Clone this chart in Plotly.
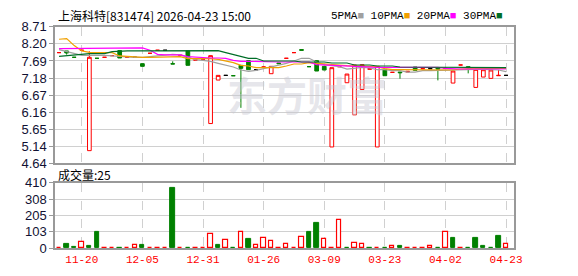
import plotly.graph_objects as go

# ---------------- data ----------------
idx = list(range(60))
tick_idx = [3, 11, 19, 27, 35, 43, 51, 59]
tick_labels = ["11-20", "12-05", "12-31", "01-26", "03-09", "03-23", "04-02", "04-23"]

opens = [7.94, 7.99, 7.80, 8.01, 5.01, 7.77, 7.80, 7.85, 8.00, 7.80,
         7.80, 7.61, 7.92, 8.01, 8.01, 7.61, 7.86, 7.99, 7.72, 7.74,
         5.82, 7.12, 7.26, 7.25, 7.56, 7.70, 7.43, 7.51, 7.31, 7.63,
         7.77, 7.94, 8.03, 7.52, 7.70, 7.53, 5.12, 7.52, 7.04, 6.08,
         6.84, 7.44, 5.12, 7.44, 7.35, 7.36, 7.36, 7.51, 7.46, 7.46,
         7.48, 7.47, 7.03, 7.57, 7.52, 6.90, 7.21, 7.17, 7.25, 7.26]
highs = [7.94, 7.99, 7.80, 8.01, 7.98, 7.77, 7.80, 7.85, 8.00, 7.80,
         7.80, 7.61, 7.92, 8.01, 8.01, 7.68, 7.86, 7.99, 7.72, 7.74,
         7.85, 7.26, 7.26, 7.25, 7.57, 7.70, 7.43, 7.51, 7.53, 7.63,
         7.77, 7.94, 8.03, 7.52, 7.70, 7.53, 7.49, 7.52, 7.30, 7.57,
         7.58, 7.46, 7.53, 7.44, 7.35, 7.36, 7.38, 7.51, 7.46, 7.46,
         7.48, 7.47, 7.39, 7.57, 7.52, 7.44, 7.43, 7.42, 7.42, 7.26]
lows = [7.94, 7.88, 7.80, 8.01, 5.01, 7.77, 7.80, 7.85, 7.78, 7.80,
        7.80, 7.53, 7.92, 8.01, 8.01, 7.60, 7.86, 7.56, 7.72, 7.74,
        5.82, 7.12, 7.26, 7.25, 6.29, 7.43, 7.43, 7.51, 7.31, 7.61,
        7.77, 7.94, 8.01, 7.52, 7.39, 7.42, 5.12, 7.52, 7.04, 6.08,
        6.84, 7.44, 5.12, 7.25, 7.35, 7.16, 7.36, 7.41, 7.46, 7.46,
        7.11, 7.47, 7.03, 7.57, 7.32, 6.90, 7.21, 7.17, 7.25, 7.26]
closes = [7.94, 7.93, 7.80, 8.01, 7.80, 7.77, 7.80, 7.85, 7.78, 7.80,
          7.80, 7.53, 7.92, 8.01, 8.01, 7.60, 7.86, 7.56, 7.72, 7.74,
          7.85, 7.26, 7.26, 7.25, 7.47, 7.43, 7.43, 7.51, 7.53, 7.61,
          7.77, 7.94, 8.01, 7.52, 7.39, 7.42, 7.49, 7.52, 7.30, 7.57,
          7.58, 7.46, 7.53, 7.25, 7.35, 7.34, 7.38, 7.41, 7.46, 7.46,
          7.45, 7.47, 7.39, 7.57, 7.49, 7.44, 7.43, 7.42, 7.26, 7.26]
volumes = [3, 24, 8, 42, 12, 101, 3, 3, 4, 3,
           18, 20, 3, 3, 3, 380, 3, 4, 3, 3,
           89, 20, 53, 4, 101, 59, 18, 65, 46, 3,
           24, 3, 71, 101, 160, 59, 3, 178, 4, 30,
           26, 4, 3, 4, 12, 12, 3, 3, 3, 12,
           4, 99, 67, 3, 4, 67, 12, 4, 79, 25]

ma5 = [8.03, 7.97, 7.92, 7.86, 7.86, 7.87, 7.86, 7.84, 7.82, 7.80,
       7.80, 7.80, 7.82, 7.86, 7.87, 7.89, 7.87, 7.80, 7.73, 7.71,
       7.68, 7.62, 7.57, 7.51, 7.42, 7.38, 7.41, 7.46, 7.50, 7.55,
       7.62, 7.69, 7.77, 7.77, 7.66, 7.58, 7.56, 7.52, 7.45, 7.47,
       7.50, 7.48, 7.43, 7.43, 7.40, 7.40, 7.36, 7.36, 7.40, 7.40,
       7.41, 7.42, 7.43, 7.44, 7.44, 7.44, 7.44, 7.44, 7.42, 7.37]
ma10 = [8.34, 8.36, 8.15, 7.99, 7.95, 7.94, 7.94, 7.94, 7.84, 7.82,
        7.82, 7.80, 7.80, 7.81, 7.82, 7.82, 7.82, 7.76, 7.76, 7.77,
        7.76, 7.74, 7.70, 7.64, 7.56, 7.54, 7.49, 7.49, 7.49, 7.49,
        7.54, 7.60, 7.60, 7.64, 7.62, 7.61, 7.60, 7.57, 7.55, 7.54,
        7.53, 7.52, 7.52, 7.46, 7.43, 7.43, 7.43, 7.44, 7.44, 7.43,
        7.42, 7.42, 7.42, 7.45, 7.47, 7.47, 7.47, 7.47, 7.47, 7.47]
ma20 = [8.06, 8.06, 8.06, 8.06, 8.08, 8.08, 8.08, 8.08, 8.08, 8.08,
        8.08, 8.08, 8.01, 7.89, 7.87, 7.87, 7.87, 7.82, 7.80, 7.79,
        7.78, 7.78, 7.77, 7.71, 7.68, 7.68, 7.67, 7.66, 7.66, 7.66,
        7.66, 7.66, 7.66, 7.66, 7.58, 7.57, 7.56, 7.55, 7.54, 7.52,
        7.50, 7.50, 7.50, 7.50, 7.50, 7.50, 7.50, 7.50, 7.50, 7.50,
        7.50, 7.47, 7.45, 7.45, 7.45, 7.45, 7.45, 7.45, 7.45, 7.45]
ma30 = [7.83, 7.85, 7.89, 7.91, 7.91, 7.91, 7.91, 7.97, 7.99, 7.99,
        7.99, 7.99, 8.01, 8.01, 8.01, 8.01, 8.01, 8.01, 8.01, 8.00,
        8.00, 8.00, 7.94, 7.89, 7.83, 7.77, 7.77, 7.69, 7.69, 7.69,
        7.69, 7.69, 7.66, 7.66, 7.66, 7.66, 7.63, 7.63, 7.63, 7.57,
        7.57, 7.57, 7.54, 7.54, 7.54, 7.51, 7.51, 7.51, 7.51, 7.51,
        7.51, 7.51, 7.51, 7.49, 7.49, 7.49, 7.49, 7.49, 7.49, 7.49]

price_ticks = [8.71, 8.20, 7.69, 7.18, 6.67, 6.16, 5.65, 5.14, 4.64]
vol_ticks = [0, 103, 205, 308, 410]

title_text = "上海科特[831474] 2026-04-23 15:00"
vol_title = "成交量:25"
ma_names = ["5PMA", "10PMA", "20PMA", "30PMA"]

# ---------------- styling ----------------
RED = "#ff0000"
GREEN = "#008000"
BLACK = "#000000"
MA_COLORS = ["#a0a0a0", "#f0a000", "#ff00ff", "#006e28"]
GRID = "#d0d0d0"
FRAME = "#999999"
FONT = "Noto Sans CJK SC"
MONO = "Liberation Mono"

# candle direction classes (derived from data)
up, down, flat = [], [], []
for i in idx:
    if closes[i] > opens[i]:
        up.append(i)
    elif closes[i] < opens[i]:
        down.append(i)
    else:
        prev = closes[i - 1] if i > 0 else closes[i] - 0.01
        if closes[i] > prev:
            up.append(i)
        elif closes[i] < prev:
            down.append(i)
        else:
            flat.append(i)

vol_up = [i for i in idx if i == 0 or closes[i] >= closes[i - 1]]
vol_dn = [i for i in idx if not (i == 0 or closes[i] >= closes[i - 1])]

fig = go.Figure()


def candle(sel, line_color, fill_color):
    fig.add_trace(go.Candlestick(
        x=[idx[i] for i in sel],
        open=[opens[i] for i in sel], high=[highs[i] for i in sel],
        low=[lows[i] for i in sel], close=[closes[i] for i in sel],
        increasing=dict(line=dict(color=line_color, width=1), fillcolor=fill_color),
        decreasing=dict(line=dict(color=line_color, width=1), fillcolor=fill_color),
        whiskerwidth=0, showlegend=False, hoverinfo="skip",
        xaxis="x", yaxis="y"))


candle(up, RED, "#ffffff")
candle(down, GREEN, GREEN)
candle(flat, BLACK, BLACK)

for vals, col in zip([ma5, ma10, ma20, ma30], MA_COLORS):
    fig.add_trace(go.Scatter(x=idx, y=vals, mode="lines",
                             line=dict(color=col, width=1.2),
                             showlegend=False, hoverinfo="skip",
                             xaxis="x", yaxis="y"))

fig.add_trace(go.Bar(x=[idx[i] for i in vol_up], y=[volumes[i] for i in vol_up],
                     marker=dict(color="#ffffff", line=dict(color=RED, width=1.2)),
                     width=0.58, showlegend=False, hoverinfo="skip",
                     xaxis="x2", yaxis="y2"))
fig.add_trace(go.Bar(x=[idx[i] for i in vol_dn], y=[volumes[i] for i in vol_dn],
                     marker=dict(color=GREEN, line=dict(color=GREEN, width=1)),
                     width=0.58, showlegend=False, hoverinfo="skip",
                     xaxis="x2", yaxis="y2"))

W, H = 578, 276
x_dom = [56 / W, 522 / W]
y_dom = [1 - 165 / H, 1 - 21 / H]
y2_dom = [1 - 255 / H, 1 - 186 / H]
x_range = [-0.52, 60.03]

common_x = dict(range=x_range, tickmode="array", tickvals=tick_idx,
                showgrid=True, gridcolor=GRID, griddash="dash", gridwidth=1,
                showline=True, linecolor=FRAME, linewidth=1.5, mirror=True,
                zeroline=False, fixedrange=True)

fig.update_layout(
    width=W, height=H, margin=dict(l=0, r=0, t=0, b=0),
    paper_bgcolor="#ffffff", plot_bgcolor="#ffffff",
    font=dict(family=FONT, size=12, color="#000000"),
    bargap=0, barmode="overlay",
    xaxis=dict(domain=x_dom, anchor="y", showticklabels=False,
               rangeslider=dict(visible=False), ticks="", **common_x),
    yaxis=dict(domain=y_dom, anchor="x", range=[4.64, 8.71], tickmode="array",
               tickvals=price_ticks, ticktext=[f"{v:.2f}" for v in price_ticks],
               showgrid=True, gridcolor=GRID, showline=True, linecolor=FRAME,
               linewidth=1.5, mirror=True, zeroline=False, ticks="outside",
               ticklen=4, tickcolor=FRAME,
               tickfont=dict(family="Liberation Sans", size=13, color="#111133")),
    xaxis2=dict(domain=x_dom, anchor="y2", showticklabels=True, ticktext=tick_labels,
                tickfont=dict(family=MONO, size=11, color=RED), ticks="",
                **common_x),
    yaxis2=dict(domain=y2_dom, anchor="x2", range=[0, 410], tickmode="array",
                tickvals=vol_ticks, ticktext=[str(v) for v in vol_ticks],
                showgrid=True, gridcolor=GRID, showline=True, linecolor=FRAME,
                linewidth=1.5, mirror=True, zeroline=False, ticks="outside",
                ticklen=4, tickcolor=FRAME,
                tickfont=dict(family="Liberation Sans", size=13, color="#111133")),
)

ann = []
ann.append(dict(text=title_text, x=57 / W, y=1 - 9 / H, xref="paper", yref="paper",
                xanchor="left", yanchor="middle", showarrow=False,
                font=dict(family=FONT, size=12, color="#000000")))
legend_html = " ".join(
    f"{n}<span style='color:{c}'>■</span>" for n, c in zip(ma_names, MA_COLORS))
ann.append(dict(text=legend_html, x=513 / W, y=1 - 9 / H, xref="paper", yref="paper",
                xanchor="right", yanchor="middle", showarrow=False,
                font=dict(family=MONO, size=11, color="#000000")))
ann.append(dict(text=vol_title, x=57 / W, y=1 - 177 / H, xref="paper", yref="paper",
                xanchor="left", yanchor="middle", showarrow=False,
                font=dict(family=FONT, size=12, color="#000000")))
ann.append(dict(text="<b>东方财富</b>", x=312 / W, y=1 - 92 / H, xref="paper", yref="paper",
                xanchor="center", yanchor="middle", showarrow=False,
                font=dict(family=FONT, size=40, color="rgba(200,200,210,0.45)")))
fig.update_layout(annotations=ann)

fig.write_html("out.html")
